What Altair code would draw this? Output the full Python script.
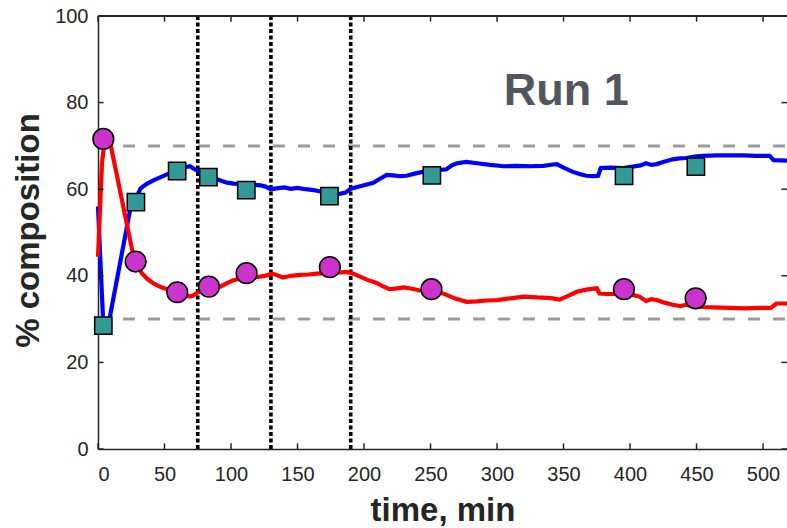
import altair as alt
import pandas as pd

# Continuous composition traces (time in min, % composition)
blue_t = [0, 4, 8, 24, 28, 32, 37, 42, 48, 54, 60, 65, 69, 73, 77, 82, 87, 92, 97,
          102, 110, 118, 122, 126, 130, 134, 140, 145, 150, 156, 162, 168, 174, 180,
          186, 190, 195, 200, 207, 212, 217, 222, 227, 232, 238, 244, 250, 256, 262,
          266, 270, 277, 285, 295, 305, 315, 325, 335, 342, 345, 350, 357, 362, 367,
          372, 376, 378, 385, 395, 402, 408, 412, 416, 420, 425, 432, 437, 442, 450,
          455, 465, 475, 485, 495, 505, 508, 518]
blue_v = [56.0, 28.5, 29.0, 55.0, 57.5, 60.2, 61.3, 62.1, 62.9, 63.7, 64.2, 65.0, 65.3,
          64.6, 64.0, 63.1, 62.6, 62.0, 61.5, 61.3, 61.1, 61.0, 60.9, 60.6, 60.0, 60.2,
          60.4, 60.1, 60.3, 60.0, 59.8, 59.4, 58.6, 58.8, 59.2, 60.1, 60.5, 60.9, 61.5,
          62.4, 63.3, 63.2, 63.0, 63.1, 63.6, 64.0, 64.2, 64.4, 64.6, 65.5, 66.0, 66.3,
          66.0, 65.6, 65.3, 65.4, 65.3, 65.4, 65.7, 65.8, 65.0, 64.0, 63.5, 63.1, 63.0,
          63.1, 64.9, 65.0, 64.9, 65.2, 65.5, 66.0, 65.6, 65.8, 66.3, 66.9, 67.1, 67.2,
          67.6, 67.7, 67.8, 67.8, 67.8, 67.7, 67.7, 66.7, 66.6]

red_t = [0, 3, 5, 9, 27, 30, 33, 37, 42, 48, 54, 60, 65, 69, 72, 75, 80, 86, 92, 97,
         102, 108, 115, 122, 127, 131, 135, 139, 145, 152, 158, 165, 172, 180, 187,
         192, 197, 203, 209, 214, 219, 225, 230, 236, 242, 250, 256, 262, 268, 277,
         285, 292, 300, 310, 320, 330, 338, 342, 347, 353, 360, 367, 375, 377, 382,
         388, 395, 402, 407, 412, 416, 420, 426, 432, 438, 442, 448, 455, 462, 475,
         487, 497, 506, 510, 518]
red_v = [44.4, 66.0, 71.3, 71.0, 44.0, 42.0, 40.6, 39.3, 38.2, 37.3, 36.7, 36.2, 35.6,
         35.2, 35.5, 36.2, 36.8, 37.3, 37.5, 38.3, 39.0, 39.4, 39.6, 39.8, 40.1, 40.5,
         40.1, 39.6, 40.0, 40.2, 40.3, 40.5, 40.6, 40.7, 40.9, 40.5, 39.8, 39.0, 38.4,
         37.6, 36.9, 37.1, 37.3, 37.0, 36.6, 36.5, 36.3, 35.6, 34.8, 34.0, 34.1, 34.3,
         34.4, 34.8, 35.2, 35.0, 34.9, 34.8, 34.5, 35.3, 36.3, 36.8, 37.1, 35.9, 35.8,
         35.8, 35.9, 35.6, 35.2, 34.2, 34.6, 34.4, 33.8, 33.3, 33.0, 33.3, 33.0, 32.8,
         32.7, 32.6, 32.5, 32.6, 32.6, 33.6, 33.6]

# Discrete samples
sq_t = [4, 28.5, 59.5, 83, 111.5, 174, 251, 395.5, 449.5]
sq_v = [28.5, 57.0, 64.2, 62.8, 59.8, 58.4, 63.2, 63.1, 65.2]
circ_t = [4, 28.3, 59.6, 83.4, 111.7, 174.3, 250.7, 395.4, 449.3]
circ_v = [71.6, 43.3, 36.2, 37.5, 40.6, 42.0, 36.9, 36.9, 34.8]

# Reference lines
event_times = [75, 130, 190]
limit_levels = [30, 70]

x_ticks = [0, 50, 100, 150, 200, 250, 300, 350, 400, 450, 500]
y_ticks = [0, 20, 40, 60, 80, 100]

X_MAX = 518
FONT = "Liberation Sans"
AXIS_COLOR = "#262626"

xs = alt.Scale(domain=[0, X_MAX], nice=False, zero=False)
ys = alt.Scale(domain=[0, 100], nice=False)

x_axis = alt.Axis(values=x_ticks, title="time, min", ticks=False, grid=False,
                  labelFont=FONT, labelFontSize=20, labelColor=AXIS_COLOR,
                  labelPadding=15, domainColor=AXIS_COLOR, domainWidth=1.5,
                  titleFont=FONT, titleFontSize=33, titleFontWeight="bold",
                  titleColor=AXIS_COLOR, titleBaseline="alphabetic",
                  titleX=344.5, titleY=71, titleAlign="center")
y_axis = alt.Axis(values=y_ticks, title="% composition", ticks=False, grid=False,
                  labelFont=FONT, labelFontSize=20, labelColor=AXIS_COLOR,
                  labelPadding=10, domainColor=AXIS_COLOR, domainWidth=1.5,
                  titleFont=FONT, titleFontSize=33, titleFontWeight="bold",
                  titleColor=AXIS_COLOR, titleAngle=270, titleBaseline="alphabetic",
                  titleAlign="center", titleX=-59.5, titleY=214)


def X(field):
    return alt.X(field, scale=xs, axis=x_axis, title="time, min")


def Y(field):
    return alt.Y(field, scale=ys, axis=y_axis, title="% composition")


blue_df = pd.DataFrame({"t": blue_t, "v": blue_v})
red_df = pd.DataFrame({"t": red_t, "v": red_v})
sq_df = pd.DataFrame({"t": sq_t, "v": sq_v})
circ_df = pd.DataFrame({"t": circ_t, "v": circ_v})

limits = alt.Chart(pd.DataFrame({"y": limit_levels, "x0": [0] * 2, "x1": [X_MAX] * 2})).mark_rule(
    color="#9b9b9b", strokeWidth=3, strokeDash=[12, 13]
).encode(x=X("x0:Q"), x2="x1:Q", y=Y("y:Q"))

events = alt.Chart(pd.DataFrame({"x": event_times, "y0": [0] * 3, "y1": [100] * 3})).mark_rule(
    color="black", strokeWidth=3.6, strokeDash=[4, 2.5]
).encode(x=X("x:Q"), y=Y("y0:Q"), y2="y1:Q")

blue_line = alt.Chart(blue_df).mark_line(color="#0000ff", strokeWidth=4.2).encode(
    x=X("t:Q"), y=Y("v:Q"))
red_line = alt.Chart(red_df).mark_line(color="#ff0000", strokeWidth=4.2).encode(
    x=X("t:Q"), y=Y("v:Q"))

squares = alt.Chart(sq_df).mark_point(
    shape="square", filled=True, size=300, fill="#339996", fillOpacity=1,
    stroke="black", strokeWidth=1.5, opacity=1
).encode(x=X("t:Q"), y=Y("v:Q"))
circles = alt.Chart(circ_df).mark_point(
    shape="circle", filled=True, size=430, fill="#cc33cc", fillOpacity=1,
    stroke="black", strokeWidth=1.5, opacity=1
).encode(x=X("t:Q"), y=Y("v:Q"))

# Frame: top border and inward-pointing ticks on all four sides
top_border = alt.Chart(pd.DataFrame({"x0": [0], "x1": [X_MAX], "y": [100]})).mark_rule(
    color=AXIS_COLOR, strokeWidth=1.8
).encode(x=X("x0:Q"), x2="x1:Q", y=Y("y:Q"))

xt = pd.DataFrame({"x": x_ticks})
bottom_ticks = alt.Chart(xt).mark_rule(color=AXIS_COLOR, strokeWidth=1.5).encode(
    x=X("x:Q"), y=Y("a:Q"), y2="b:Q",
).transform_calculate(a="0", b="1.3")
top_ticks = alt.Chart(xt).mark_rule(color=AXIS_COLOR, strokeWidth=1.5).encode(
    x=X("x:Q"), y=Y("a:Q"), y2="b:Q",
).transform_calculate(a="100", b="98.7")

yt = pd.DataFrame({"y": y_ticks})
left_ticks = alt.Chart(yt).mark_rule(color=AXIS_COLOR, strokeWidth=1.5).encode(
    y=Y("y:Q"), x=X("a:Q"), x2="b:Q",
).transform_calculate(a="0", b="4.2")
right_ticks = alt.Chart(yt).mark_rule(color=AXIS_COLOR, strokeWidth=1.5).encode(
    y=Y("y:Q"), x=X("a:Q"), x2="b:Q",
).transform_calculate(a=str(X_MAX), b=str(X_MAX - 4.2))

label = alt.Chart(pd.DataFrame({"t": [352], "v": [79.4], "s": ["Run 1"]})).mark_text(
    font=FONT, fontSize=45, fontWeight="bold", color="#51575d",
    align="center", baseline="alphabetic"
).encode(x=X("t:Q"), y=Y("v:Q"), text="s:N")

chart = alt.layer(
    limits, events, blue_line, red_line, squares, circles,
    top_border, bottom_ticks, top_ticks, left_ticks, right_ticks, label
).properties(
    width=689, height=433,
    autosize=alt.AutoSizeParams(type="none"),
    padding={"left": 98, "top": 16, "right": 0, "bottom": 79},
    background="white",
).configure_view(stroke=None)

chart.save("out.html", embed_options={"renderer": "svg", "actions": False})
